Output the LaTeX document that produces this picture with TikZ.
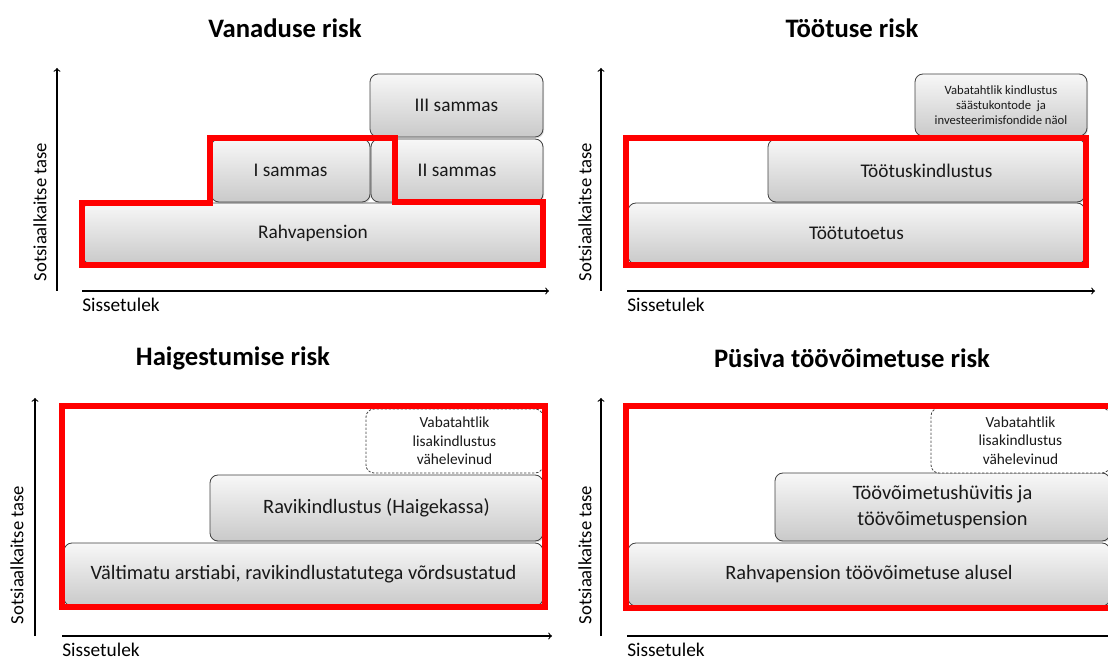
\documentclass[tikz,border=0pt]{standalone}
\usepackage{fontspec}
\setmainfont{Carlito}
\usetikzlibrary{fit,shadows}

\tikzset{
	pillar/.style={draw=black!75, line width=0.6pt, rounded corners=6pt, top color=gray!6, bottom color=gray!42, inner sep=0pt, drop shadow={opacity=0.25, shadow xshift=0.8pt, shadow yshift=-1pt}},
	optional/.style={draw=black!75, line width=0.6pt, dash pattern=on 1.8pt off 1.2pt, rounded corners=6pt, fill=white, inner sep=0pt},
	pillartext/.style={align=center, text=black!90, font=\fontsize{14.5}{18.5}\selectfont},
	bigtext/.style={align=center, text=black!90, font=\fontsize{15.3}{19}\selectfont},
	smalltext/.style={align=center, text=black!90, font=\fontsize{11.5}{14}\selectfont},
	tinytext/.style={align=center, text=black!90, font=\fontsize{9.5}{11.25}\selectfont},
	cover/.style={draw=red, line width=3.8pt, line join=miter},
	axis/.style={->, line width=0.9pt},
	riskname/.style={font=\fontsize{20}{24}\selectfont\bfseries},
	level/.style={rotate=90, font=\fontsize{14}{17}\selectfont},
	income/.style={anchor=base west, inner sep=0pt, font=\fontsize{14.5}{17}\selectfont},
}

\begin{document}
\begin{tikzpicture}[x=0.75pt, y=-0.75pt]
	
	\useasboundingbox (0,0) rectangle (1108,659);
	\clip (0,0) rectangle (1108,659);
	
	\node[riskname] (titleA) at (285, 28)  {Vanaduse risk};
	\node[riskname] (titleB) at (852, 28)  {Töötuse risk};
	\node[riskname] (titleC) at (233, 358) {Haigestumise risk};
	\node[riskname] (titleD) at (852, 358) {Püsiva töövõimetuse risk};
	
	\coordinate (oA) at (57, 291);   \coordinate (yA) at (57, 68);    \coordinate (sA) at (82, 291);  \coordinate (xA) at (549, 291);
	\coordinate (oB) at (601, 291);  \coordinate (yB) at (601, 68);   \coordinate (sB) at (627, 291); \coordinate (xB) at (1095, 291);
	\coordinate (oC) at (35, 636);   \coordinate (yC) at (35, 398);   \coordinate (sC) at (62, 636);  \coordinate (xC) at (552, 636);
	\coordinate (oD) at (601, 636);  \coordinate (yD) at (601, 398);  \coordinate (sD) at (627, 636); \coordinate (xD) at (1130, 636);
	
	\path[axis] (oA) edge (yA);
	\path[axis] (sA) edge (xA);
	\path[axis] (oB) edge (yB);
	\path[axis] (sB) edge (xB);
	\path[axis] (oC) edge (yC);
	\path[axis] (sC) edge (xC);
	\path[axis] (oD) edge (yD);
	\path[axis] (sD) edge (xD);
	
	\node[level] (levelA) at (40, 212)  {Sotsiaalkaitse tase};
	\node[level] (levelB) at (585, 212) {Sotsiaalkaitse tase};
	\node[level] (levelC) at (17, 555)  {Sotsiaalkaitse tase};
	\node[level] (levelD) at (585, 555) {Sotsiaalkaitse tase};
	
	\node[income] (incomeA) at (82, 312)  {Sissetulek};
	\node[income] (incomeB) at (627, 312) {Sissetulek};
	\node[income] (incomeC) at (62, 656)  {Sissetulek};
	\node[income] (incomeD) at (627, 656) {Sissetulek};
	
	\node[pillar, fit={(83,203) (543,264)},  label={[pillartext]center:Rahvapension}] (rahvapension) {};
	\node[pillar, fit={(211,139) (370,202)}, label={[pillartext]center:I sammas}]     (sammasI)      {};
	\node[pillar, fit={(371,139) (543,202)}, label={[pillartext]center:II sammas}]    (sammasII)     {};
	\node[pillar, fit={(370,74) (543,137)},  label={[pillartext]center:III sammas}]   (sammasIII)    {};
	
	\node[pillar, fit={(628,203) (1085,264)}, label={[pillartext]center:Töötutoetus}]      (tootutoetus) {};
	\node[pillar, fit={(768,139) (1085,202)}, label={[pillartext]center:Töötuskindlustus}] (tootuskindl) {};
	\node[pillar, fit={(915,74) (1087,136)},  label={[tinytext]center:{Vabatahtlik kindlustus\\säästukontode\ \ ja\\investeerimisfondide näol}}] (vabatahtlikB) {};
	
	\node[pillar, fit={(64,543) (543,606)},    label={[bigtext]center:{Vältimatu arstiabi, ravikindlustatutega võrdsustatud}}] (valtimatu) {};
	\node[pillar, fit={(210,475) (543,541)},   label={[bigtext]center:{Ravikindlustus (Haigekassa)}}] (ravikindl) {};
	\node[optional, fit={(366,409) (543,473)}, label={[smalltext]center:{Vabatahtlik\\lisakindlustus\\vähelevinud}}] (vabatahtlikC) {};
	
	\node[pillar, fit={(628,543) (1110,606)},   label={[bigtext]center:{Rahvapension töövõimetuse alusel}}] (rahvatvv) {};
	\node[pillar, fit={(775,473) (1110,541)},   label={[bigtext]center:{Töövõimetushüvitis ja\\töövõimetuspension}}] (tvvhuvitis) {};
	\node[optional, fit={(931,408) (1110,473)}, label={[smalltext]center:{Vabatahtlik\\lisakindlustus\\vähelevinud}}] (vabatahtlikD) {};
	
	\draw[cover] (82,265) -- (82,203) -- (210,203) -- (210,138) -- (395,138) -- (395,202) -- (543,202) -- (543,265) -- cycle;
	\draw[cover] (626,138) rectangle (1086,265);
	\draw[cover] (62,406) rectangle (545,607);
	\draw[cover] (626,406) rectangle (1113,608);
	
\end{tikzpicture}
\end{document}
